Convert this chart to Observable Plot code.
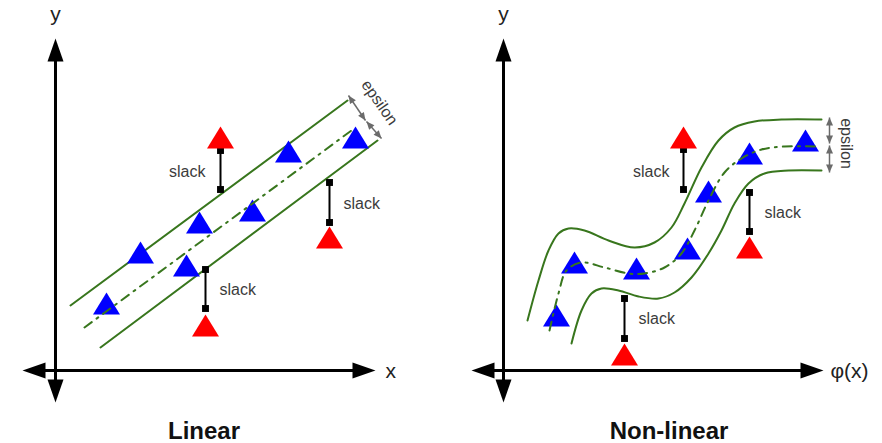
<!DOCTYPE html>
<html><head><meta charset="utf-8">
<script src="https://cdn.jsdelivr.net/npm/d3@7"></script>
<script src="https://cdn.jsdelivr.net/npm/@observablehq/plot@0.6"></script>
<style>
body{margin:0;background:#fff;font-family:"Liberation Sans",Arial,Helvetica,sans-serif;}
#wrap{display:flex;width:882px;}
.panel{width:441px;}
.panel svg{display:block;}
.title{font-weight:bold;font-size:24px;line-height:28px;padding-top:7px;color:#111;text-align:center;box-sizing:border-box;width:441px;}
</style></head><body><div id="wrap"></div>
<script>
// ---------- Linear panel ----------
const linTitle = "Linear";
const linXLabel = "x";
const linAxisX = [-3.3, 32.0];
const linAxisY = [-3.2, 33.2];
const linBlueX = [5.1, 8.5, 13.1, 14.4, 19.7, 23.3, 30.0];
const linBlueY = [6.7, 11.8, 10.5, 14.8, 16.0, 21.9, 23.3];
const linRedX = [16.5, 27.4, 15.0];
const linRedY = [23.3, 13.3, 4.5];
const linSlackX = [16.5, 27.4, 15.0];
const linSlackTop = [22.0, 18.8, 10.1];
const linSlackBottom = [18.1, 14.8, 6.2];
const linSlackLabelX = [15.0, 28.8, 16.4];
const linSlackLabelY = [19.9, 16.7, 8.1];
const linSlackAnchor = ["end", "start", "start"];
const linUpperX = [1.5, 29.2], linUpperY = [6.5, 27.0];
const linMidX = [2.9, 30.0], linMidY = [4.3, 24.3];
const linLowerX = [4.5, 32.2], linLowerY = [2.3, 23.0];
const linEpsX1 = [29.3, 31.1], linEpsY1 = [27.5, 24.9];
const linEpsX2 = [31.0, 32.6], linEpsY2 = [25.0, 23.2];
const linEpsLabel = {x: 32.4, y: 26.8, rotate: 55};

// ---------- Non-linear panel ----------
const nlTitle = "Non-linear";
const nlXLabel = "φ(x)";
const nlAxisX = [-3.2, 32.0];
const nlAxisY = [-3.2, 33.2];
const nlBlueX = [5.3, 7.1, 13.3, 18.4, 20.5, 24.6, 30.2];
const nlBlueY = [5.5, 10.8, 10.2, 12.2, 17.9, 21.7, 23.0];
const nlRedX = [18.0, 24.6, 12.1];
const nlRedY = [23.3, 12.3, 1.6];
const nlSlackX = [18.0, 24.6, 12.1];
const nlSlackTop = [22.1, 17.8, 7.2];
const nlSlackBottom = [18.1, 13.9, 3.2];
const nlSlackLabelX = [16.6, 26.1, 13.5];
const nlSlackLabelY = [19.9, 15.8, 5.2];
const nlSlackAnchor = ["end", "start", "start"];
const nlUpperX = [2.4, 3.5, 4.5, 5.5, 6.5, 8.1, 10.5, 13.1, 15.1, 16.8, 18.1, 19.8, 21.5, 23.1, 25.1, 27.8, 31.8];
const nlUpperY = [5.0, 9.0, 12.0, 13.7, 14.2, 14.0, 13.0, 12.3, 12.8, 14.3, 16.7, 20.3, 23.0, 24.3, 24.9, 25.1, 25.1];
const nlMidX = [4.6, 5.5, 6.3, 7.8, 10.1, 12.5, 14.1, 16.1, 17.8, 19.1, 20.5, 22.1, 23.8, 25.8, 28.1, 31.5];
const nlMidY = [4.0, 7.7, 10.0, 10.8, 10.3, 9.7, 9.7, 10.3, 11.7, 14.0, 17.0, 19.8, 21.2, 22.1, 22.4, 22.4];
const nlLowerX = [6.8, 7.8, 8.8, 9.8, 11.5, 13.5, 15.5, 17.1, 18.8, 20.5, 21.8, 23.1, 24.5, 26.1, 28.5, 31.8];
const nlLowerY = [2.7, 6.0, 7.7, 8.2, 8.0, 7.4, 7.2, 7.8, 9.3, 11.7, 14.0, 16.7, 18.7, 19.7, 20.0, 20.0];
const nlEpsX1 = [32.6, 32.6], nlEpsY1 = [25.3, 22.5];
const nlEpsX2 = [32.6, 32.6], nlEpsY2 = [22.7, 19.8];
const nlEpsLabel = {x: 34.3, y: 22.7, rotate: 90};

// ---------- styles ----------
const GREEN = "#38761d", BLUE = "#0000ff", RED = "#ff0000", GRAY = "#6b6b6b";
const FONT = "'Liberation Sans', Arial, Helvetica, sans-serif";

const triSym = {draw(c){c.moveTo(0,-11);c.lineTo(13.5,11);c.lineTo(-13.5,11);c.closePath();}};
const headSym = {draw(c){c.moveTo(0,0);c.lineTo(8,23);c.lineTo(-8,23);c.closePath();}};
const smallSym = {draw(c){c.moveTo(0,0);c.lineTo(3.5,8);c.lineTo(-3.5,8);c.closePath();}};

const zip = (xs, ys) => xs.map((x, i) => ({x, y: ys[i]}));

function panel(p) {
  const blue = zip(p.blueX, p.blueY);
  const red = zip(p.redX, p.redY);
  const slack = p.slackX.map((x, i) => ({x, y1: p.slackTop[i], y2: p.slackBottom[i]}));
  const slackEnds = slack.flatMap(d => [{x: d.x, y: d.y1}, {x: d.x, y: d.y2}]);
  const slackLabels = p.slackLabelX.map((x, i) => ({x, y: p.slackLabelY[i], a: p.slackAnchor[i]}));
  const eps = p.epsX1.map((x1, i) => ({x1, y1: p.epsY1[i], x2: p.epsX2[i], y2: p.epsY2[i]}));
  const epsHeads = eps.flatMap(d => {
    const a = Math.atan2(d.x2 - d.x1, d.y2 - d.y1) * 180 / Math.PI;
    return [{x: d.x2, y: d.y2, r: a}, {x: d.x1, y: d.y1, r: a + 180}];
  });
  const axes = [
    {x1: 0, y1: p.axisY[0], x2: 0, y2: p.axisY[1]},
    {x1: p.axisX[0], y1: 0, x2: p.axisX[1], y2: 0}
  ];
  const heads = [
    {x: 0, y: p.axisY[1], r: 0}, {x: 0, y: p.axisY[0], r: 180},
    {x: p.axisX[1], y: 0, r: 90}, {x: p.axisX[0], y: 0, r: -90}
  ];
  const curve = p.curve;
  const slackText = a => Plot.text(slackLabels.filter(d => d.a === a),
    {x: "x", y: "y", text: () => "slack", textAnchor: a, fontSize: 16, fill: "#3c3c3c"});
  return Plot.plot({
    width: 441, height: 410, margin: 0,
    x: {domain: p.xDomain, axis: null},
    y: {domain: [-4, 37], axis: null},
    style: {fontFamily: FONT, background: "white", overflow: "visible"},
    marks: [
      // axes
      Plot.arrow(axes, {x1: "x1", y1: "y1", x2: "x2", y2: "y2", stroke: "black", strokeWidth: 3, headLength: 0, inset: 12}),
      Plot.dot(heads, {x: "x", y: "y", rotate: "r", symbol: headSym, fill: "black", stroke: "none"}),
      Plot.text(["y"], {x: 0, y: 35.6, text: d => d, fontSize: 21, fill: "#222"}),
      Plot.text([p.xLabel], {x: p.xLabelX, y: -0.1, text: d => d, fontSize: 21, fill: "#222", textAnchor: "start"}),
      // tube boundaries
      Plot.line(zip(p.upperX, p.upperY), {x: "x", y: "y", stroke: GREEN, strokeWidth: 2, curve}),
      Plot.line(zip(p.lowerX, p.lowerY), {x: "x", y: "y", stroke: GREEN, strokeWidth: 2, curve}),
      // slack
      Plot.link(slack, {x1: "x", y1: "y1", x2: "x", y2: "y2", stroke: "black", strokeWidth: 2}),
      Plot.dot(slackEnds, {x: "x", y: "y", symbol: "square", r: 3.9, fill: "black", stroke: "none"}),
      slackText("end"),
      slackText("start"),
      // points
      Plot.dot(blue, {x: "x", y: "y", symbol: triSym, fill: BLUE, stroke: "none"}),
      Plot.dot(red, {x: "x", y: "y", symbol: triSym, fill: RED, stroke: "none"}),
      // regression function
      Plot.line(zip(p.midX, p.midY), {x: "x", y: "y", stroke: GREEN, strokeWidth: 2, strokeDasharray: "9,6,2,6", curve}),
      // epsilon
      Plot.link(eps, {x1: "x1", y1: "y1", x2: "x2", y2: "y2", stroke: GRAY, strokeWidth: 1.5}),
      Plot.dot(epsHeads, {x: "x", y: "y", rotate: "r", symbol: smallSym, fill: GRAY, stroke: "none"}),
      Plot.text([p.epsLabel], {x: "x", y: "y", rotate: p.epsLabel.rotate, text: () => "epsilon", fontSize: 16, fill: "#3c3c3c"})
    ]
  });
}

const panels = [
  {title: linTitle, titlePad: "0 33px 0 0", xDomain: [-5.5, 38.6], xLabel: linXLabel, xLabelX: 33.0,
   axisX: linAxisX, axisY: linAxisY, blueX: linBlueX, blueY: linBlueY, redX: linRedX, redY: linRedY,
   slackX: linSlackX, slackTop: linSlackTop, slackBottom: linSlackBottom,
   slackLabelX: linSlackLabelX, slackLabelY: linSlackLabelY, slackAnchor: linSlackAnchor,
   upperX: linUpperX, upperY: linUpperY, midX: linMidX, midY: linMidY, lowerX: linLowerX, lowerY: linLowerY,
   epsX1: linEpsX1, epsY1: linEpsY1, epsX2: linEpsX2, epsY2: linEpsY2, epsLabel: linEpsLabel, curve: "linear"},
  {title: nlTitle, titlePad: "0 0 0 15px", xDomain: [-6.2, 37.9], xLabel: nlXLabel, xLabelX: 32.7,
   axisX: nlAxisX, axisY: nlAxisY, blueX: nlBlueX, blueY: nlBlueY, redX: nlRedX, redY: nlRedY,
   slackX: nlSlackX, slackTop: nlSlackTop, slackBottom: nlSlackBottom,
   slackLabelX: nlSlackLabelX, slackLabelY: nlSlackLabelY, slackAnchor: nlSlackAnchor,
   upperX: nlUpperX, upperY: nlUpperY, midX: nlMidX, midY: nlMidY, lowerX: nlLowerX, lowerY: nlLowerY,
   epsX1: nlEpsX1, epsY1: nlEpsY1, epsX2: nlEpsX2, epsY2: nlEpsY2, epsLabel: nlEpsLabel, curve: "catmull-rom"}
];

const wrap = document.getElementById("wrap");
for (const p of panels) {
  const div = document.createElement("div");
  div.className = "panel";
  div.appendChild(panel(p));
  const t = document.createElement("div");
  t.className = "title";
  t.style.padding = p.titlePad;
  t.style.paddingTop = "7px";
  t.textContent = p.title;
  div.appendChild(t);
  wrap.appendChild(div);
}
</script></body></html>
